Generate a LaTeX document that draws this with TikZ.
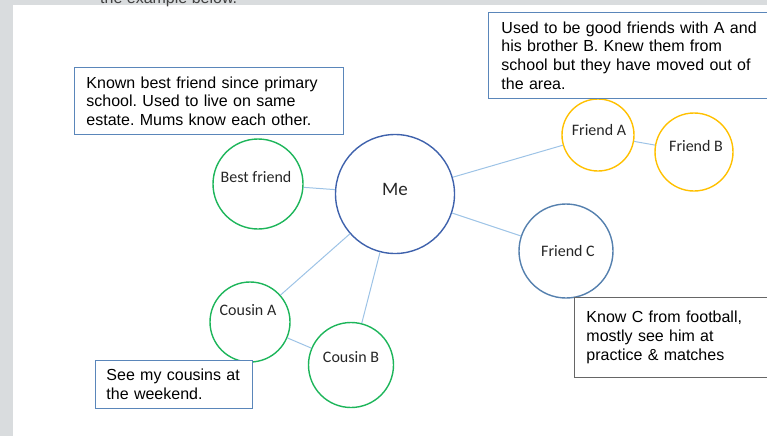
\documentclass[tikz,border=0pt]{standalone}
\usepackage{fontspec}
\setmainfont{Liberation Sans}
\newfontfamily\calib{Carlito}
\usepackage{xcolor}
\definecolor{mapgreen}{HTML}{1DB55A}
\definecolor{mapyellow}{HTML}{FFC000}
\definecolor{mapme}{HTML}{3F62AC}
\definecolor{mapfc}{HTML}{5580AE}
\definecolor{maplinkc}{HTML}{9DC3E6}
\definecolor{mapnoteb}{HTML}{5A86BA}
\definecolor{mapgrey}{HTML}{D9DCDE}
\usetikzlibrary{positioning}
\frenchspacing
\tikzset{
  mapcirc/.style={draw,circle,line width=1.4pt,inner sep=0pt},
  maplabel/.style={font=\calib\fontsize{16}{18}\selectfont,text=black!85},
  mapnote/.style={draw=mapnoteb,line width=0.9pt,anchor=north west,align=left,inner ysep=0pt,font=\fontsize{16}{18.6}\selectfont},
  maplink/.style={draw=maplinkc,line width=1pt},
}

\begin{document}
\begin{tikzpicture}[x=1pt,y=-1pt]
\useasboundingbox (0,0) rectangle (767,436);
\fill[mapgrey] (0,0) rectangle (767,5);
\fill[mapgrey] (0,0) rectangle (13,436);
\node[anchor=base west,inner sep=0pt,text=black!75,font=\fontsize{16}{18}\selectfont] (intro) at (100,3.5) {the example below.};
% people
\node[mapcirc,draw=mapme,minimum size=119,label={[maplabel,yshift=5pt,font=\calib\fontsize{19}{21}\selectfont]center:Me}] (me) at (395,194) {};
\node[mapcirc,draw=mapgreen,minimum size=90,label={[maplabel,yshift=7pt,xshift=-2pt]center:Best friend}] (best) at (258,184) {};
\node[mapcirc,draw=mapyellow,minimum size=72,label={[maplabel,yshift=5pt,xshift=1pt]center:Friend A}] (fra) at (598,135) {};
\node[mapcirc,draw=mapyellow,minimum size=78,label={[maplabel,yshift=6pt,xshift=2pt]center:Friend B}] (frb) at (694,152) {};
\node[mapcirc,draw=mapfc,minimum size=94,label={[maplabel,xshift=2pt]center:Friend C}] (frc) at (566,251) {};
\node[mapcirc,draw=mapgreen,minimum size=80,label={[maplabel,yshift=12pt,xshift=-2pt]center:Cousin A}] (cua) at (250,322) {};
\node[mapcirc,draw=mapgreen,minimum size=85,label={[maplabel,yshift=8pt]center:Cousin B}] (cub) at (351,365) {};
% links
\draw[maplink] (me) -- (best);
\draw[maplink] (me) -- (fra);
\draw[maplink] (me) -- (frc);
\draw[maplink] (me) -- (cua);
\draw[maplink] (me) -- (cub);
\draw[maplink] (fra) -- (frb);
\draw[maplink] (cua) -- (cub);
% notes
\node[mapnote,inner xsep=12pt,text width=245,minimum height=67] (nbest) at (74,67) {Known best friend since primary\\school. Used to live on same\\estate. Mums know each other.};
\node[mapnote,fill=white,inner xsep=13pt,text width=290,minimum height=86] (nfrab) at (488,12) {Used to be good friends with A and\\his brother B. Knew them from\\school but they have moved out of\\the area.};
\node[mapnote,draw=black!60,fill=white,inner xsep=12pt,text width=220,minimum height=80] (nfrc) at (574,297) {Know C from football,\\mostly see him at\\practice \& matches\\[4pt]};
\node[mapnote,fill=white,inner xsep=11pt,text width=135,minimum height=48] (ncous) at (95,360) {See my cousins at\\the weekend.};
\end{tikzpicture}
\end{document}
